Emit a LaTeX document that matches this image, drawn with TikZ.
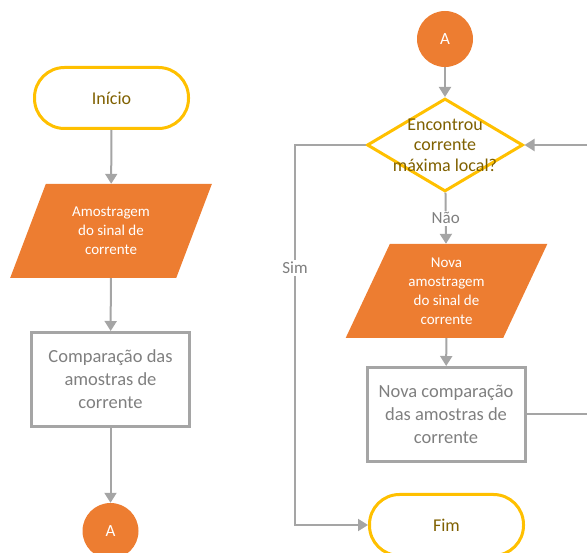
\documentclass[tikz,border=0pt]{standalone}
\usepackage{fontspec}
\setmainfont{Carlito}
\usetikzlibrary{shapes.geometric}
\usetikzlibrary{arrows.meta}
\definecolor{ofcorange}{HTML}{ED7D31}
\definecolor{ofcgold}{HTML}{FFC000}
\definecolor{ofcgray}{HTML}{A5A5A5}
\definecolor{goldtext}{HTML}{7F6000}
\definecolor{graytext}{HTML}{7F7F7F}
\tikzset{every node/.style={align=center},
         terminal/.style={ % start and end of the flow
           draw=ofcgold, line width=3pt, rounded corners=30pt,
           minimum width=154pt, minimum height=61pt,
           text=goldtext, font=\fontsize{18}{20}\selectfont},
         inout/.style={ % orange data blocks
           trapezium, trapezium left angle=66, trapezium right angle=114,
           trapezium stretches=true, fill=ofcorange, text=white,
           minimum width=202pt, minimum height=94pt, inner sep=0pt,
           font=\fontsize{15}{19}\selectfont},
         process/.style={
           draw=ofcgray, line width=3pt,
           minimum width=158pt, minimum height=94pt,
           text=graytext, font=\fontsize{18.5}{23}\selectfont},
         connector/.style={
           circle, fill=ofcorange, text=white, inner sep=0pt,
           minimum size=56pt, font=\fontsize{17}{18}\selectfont},
         decision/.style={
           diamond, draw=ofcgold, line width=3pt, inner sep=0pt,
           minimum width=156pt, minimum height=93pt},
         dectext/.style={text=goldtext, font=\fontsize{18}{20.5}\selectfont},
         flow/.style={ % every connector line
           draw=ofcgray, line width=2pt,
           -{Triangle[width=12pt,length=10pt]}},
         flowlabel/.style={fill=white, inner sep=2pt,
           text=graytext, font=\fontsize{17}{18}\selectfont}}

\begin{document}
\begin{tikzpicture}[x=1pt, y=-1pt]
  \useasboundingbox (0,0) rectangle (587,553);

  % left column
  \node [terminal] (inicio) at (111.5,98) {Início};
  \node [inout] (amos1) at (111,231) {Amostragem\\do sinal de\\corrente};
  \node [process] (comp1) at (110.5,379.5) {Comparação das\\amostras de\\corrente};
  \node [connector] (conA1) at (110.5,531) {A};

  \draw [flow] (inicio) -- (amos1);
  \draw [flow] (amos1) -- (comp1);
  \draw [flow] (comp1) -- (conA1);

  % right column
  \node [connector] (conA2) at (445,39) {A};
  \node [decision, label={[dectext]center:Encontrou\\corrente\\máxima local?}] (dec) at (445,145) {};
  \node [inout] (amos2) at (446.5,291) {Nova\\amostragem\\do sinal de\\corrente};
  \node [process] (comp2) at (446,414.5) {Nova comparação\\das amostras de\\corrente};
  \node [terminal] (fim) at (446.5,525) {Fim};

  \coordinate (volta) at (592,145);
  \coordinate (sim) at (295,268);

  \draw [flow] (conA2) -- (dec);
  \draw [flow] (dec) -- node[flowlabel] {Não} (amos2);
  \draw [flow] (amos2) -- (comp2);
  \draw [flow] (comp2.east) -| (volta) -- (dec.east);
  \draw [flow] (dec.west) -| (sim) node[flowlabel] {Sim} |- (fim.west);
\end{tikzpicture}
\end{document}
